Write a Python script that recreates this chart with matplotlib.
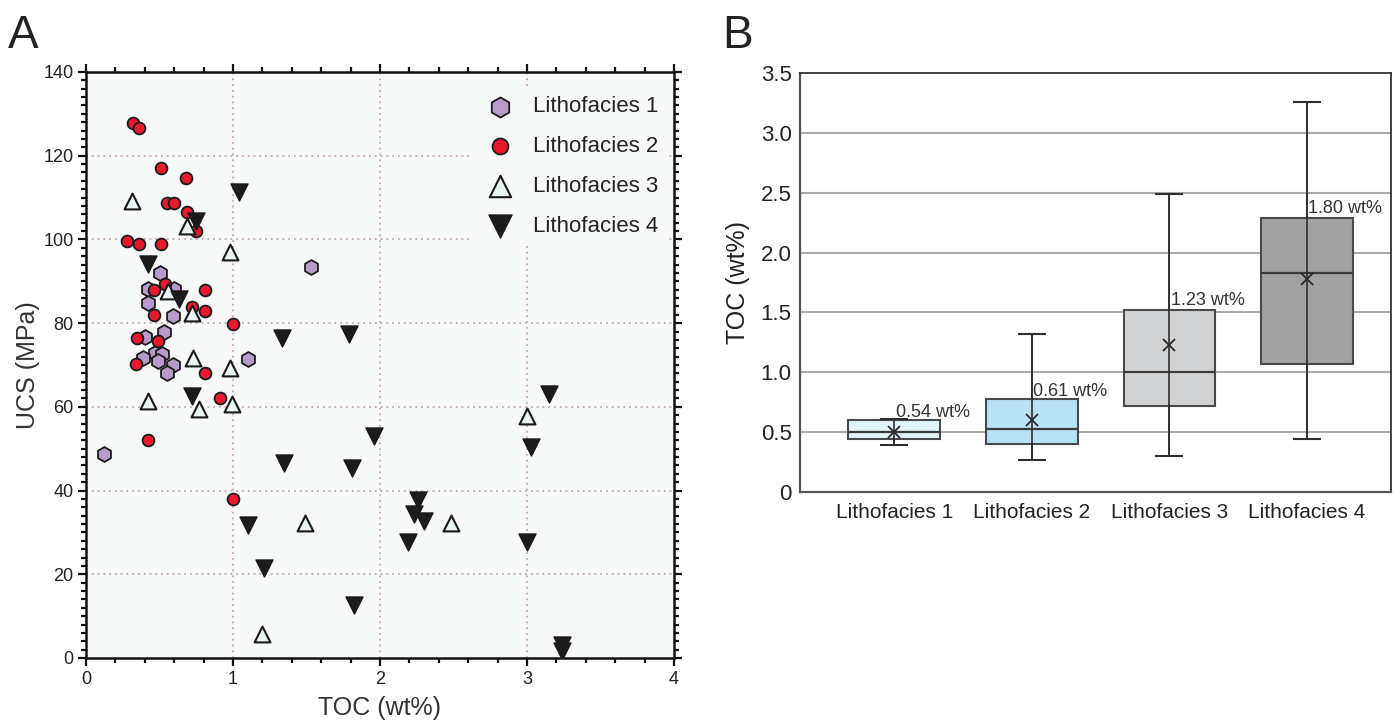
import matplotlib
matplotlib.use("Agg")
import matplotlib.pyplot as plt
from matplotlib.ticker import MultipleLocator

plt.rcParams['font.family'] = ['Liberation Sans', 'DejaVu Sans']

# ---------------- Panel A data (TOC wt%, UCS MPa) ----------------
l1_toc = [1.53, 0.50, 0.42, 0.60, 0.42, 0.59, 0.53, 0.40, 0.47, 0.52, 0.39, 0.49, 1.10, 0.59, 0.55, 0.12]
l1_ucs = [93.3, 91.9, 88.1, 88.1, 84.9, 81.6, 77.8, 76.8, 72.9, 72.6, 71.7, 70.9, 71.4, 69.9, 68.2, 48.7]

l2_toc = [0.32, 0.36, 0.51, 0.68, 0.55, 0.60, 0.69, 0.75, 0.28, 0.36, 0.51, 0.54, 0.46, 0.81,
          0.72, 0.81, 0.46, 1.00, 0.35, 0.49, 0.34, 0.81, 0.91, 0.42, 1.00]
l2_ucs = [127.7, 126.7, 117.0, 114.7, 108.8, 108.8, 106.6, 102.0, 99.6, 99.0, 99.0, 89.3, 88.0, 88.0,
          83.9, 83.0, 81.9, 79.7, 76.5, 75.7, 70.2, 68.2, 62.0, 52.0, 37.9]

l3_toc = [0.31, 0.69, 0.98, 0.56, 0.72, 0.73, 0.98, 0.42, 0.77, 0.99, 1.49, 1.20, 3.00, 2.48]
l3_ucs = [109.1, 103.3, 97.1, 87.7, 82.5, 71.6, 69.2, 61.3, 59.6, 60.7, 32.3, 5.7, 57.9, 32.3]

l4_toc = [1.04, 0.75, 0.42, 0.63, 1.33, 1.79, 0.72, 1.96, 1.35, 1.81, 1.10, 1.21, 1.82,
          3.15, 3.03, 2.26, 2.23, 2.30, 2.19, 3.00, 3.24, 3.24]
l4_ucs = [111.4, 104.4, 94.1, 85.7, 76.5, 77.3, 62.7, 53.1, 46.7, 45.3, 31.8, 21.4, 12.7,
          63.1, 50.5, 37.7, 34.3, 32.7, 27.6, 27.6, 3.0, 1.6]

series_labels = ["Lithofacies 1", "Lithofacies 2", "Lithofacies 3", "Lithofacies 4"]

# ---------------- Panel B data (box statistics, TOC wt%) ----------------
box_labels = ["Lithofacies 1", "Lithofacies 2", "Lithofacies 3", "Lithofacies 4"]
box_whislo = [0.39, 0.27, 0.30, 0.44]
box_q1 = [0.44, 0.40, 0.72, 1.07]
box_med = [0.50, 0.53, 1.00, 1.83]
box_q3 = [0.60, 0.78, 1.52, 2.29]
box_whishi = [0.61, 1.32, 2.49, 3.26]
box_mean = [0.50, 0.60, 1.23, 1.78]
mean_text = ["0.54 wt%", "0.61 wt%", "1.23 wt%", "1.80 wt%"]
box_colors = ["#e2f3fc", "#b8e2f6", "#d2d3d5", "#a2a2a3"]

fig = plt.figure(figsize=(14, 7.27), dpi=100)
W, H = 1400, 727

def axes_px(l, r, t, b):
    return fig.add_axes([l / W, 1 - b / H, (r - l) / W, (b - t) / H])

# ================= Panel A =================
axA = axes_px(86, 674, 72, 658)
axA.set_facecolor("#f6f9f8")
axA.set_xlim(0, 4)
axA.set_ylim(0, 140)
grid_kw = dict(color="#c6a7b1", linewidth=1.3, linestyle=(0, (1, 2.2)), zorder=0.5)
for gx in [1, 2, 3]:
    axA.axvline(gx, **grid_kw)
for gy in [20, 40, 60, 80, 100, 120]:
    axA.axhline(gy, **grid_kw)

edge = "#1a1a1a"
axA.scatter(l1_toc, l1_ucs, marker="h", s=115, facecolor="#b79ccb", edgecolor=edge,
            linewidth=1.3, zorder=3, label=series_labels[0])
axA.scatter(l2_toc, l2_ucs, marker="o", s=72, facecolor="#e8192c", edgecolor=edge,
            linewidth=1.3, zorder=3, label=series_labels[1])
axA.scatter(l3_toc, l3_ucs, marker="^", s=130, facecolor="#e9f4f4", edgecolor=edge,
            linewidth=1.5, zorder=3, label=series_labels[2])
axA.scatter(l4_toc, l4_ucs, marker="v", s=150, facecolor="#1c1c1c", edgecolor=edge,
            linewidth=1.0, zorder=3, label=series_labels[3])

axA.xaxis.set_major_locator(MultipleLocator(1))
axA.xaxis.set_minor_locator(MultipleLocator(0.2))
axA.yaxis.set_major_locator(MultipleLocator(20))
axA.yaxis.set_minor_locator(MultipleLocator(2))
axA.tick_params(which="both", direction="out", top=True, right=True, width=1.6,
                color="#111111", labelsize=13, labelcolor="#222222")
axA.tick_params(which="major", length=6, pad=3)
axA.tick_params(which="minor", length=3.5)
for sp in axA.spines.values():
    sp.set_linewidth(1.8)
    sp.set_color("#111111")
axA.set_xlabel("TOC (wt%)", fontsize=18, color="#333333", labelpad=6)
axA.set_ylabel("UCS (MPa)", fontsize=18, color="#333333", labelpad=2)

leg = axA.legend(loc="upper right", bbox_to_anchor=(1.0, 0.985), fontsize=16,
                 frameon=True, facecolor="#f6f9f8", edgecolor="none", framealpha=1,
                 labelspacing=0.85, handletextpad=0.5, borderaxespad=0.3,
                 scatterpoints=1, markerscale=1.35)
for txt in leg.get_texts():
    txt.set_color("#222222")

fig.text(8 / W, 1 - 48 / H, "A", fontsize=33, color="#222222", ha="left", va="baseline")

# ================= Panel B =================
axB = axes_px(800, 1391, 73, 492)
positions = [1, 2, 3, 4]
stats = []
for i in range(len(box_labels)):
    stats.append(dict(label=box_labels[i], whislo=box_whislo[i], q1=box_q1[i],
                      med=box_med[i], q3=box_q3[i], whishi=box_whishi[i],
                      mean=box_mean[i], fliers=[]))
bp = axB.bxp(stats, positions=positions, widths=0.665, patch_artist=True,
             showmeans=True, showfliers=False, manage_ticks=False,
             boxprops=dict(edgecolor="#4a4a4a", linewidth=1.5),
             medianprops=dict(color="#3a3a3a", linewidth=1.6),
             whiskerprops=dict(color="#2e2e2e", linewidth=1.2),
             capprops=dict(color="#2e2e2e", linewidth=1.5),
             meanprops=dict(marker="x", markersize=9, markeredgecolor="#2a2a2a",
                            markeredgewidth=1.3),
             capwidths=0.19, zorder=3)
for patch, c in zip(bp["boxes"], box_colors):
    patch.set_facecolor(c)
# whiskers drawn continuously through the box
for i, p in enumerate(positions):
    axB.plot([p, p], [box_whislo[i], box_whishi[i]], color="#2e2e2e", linewidth=1.2, zorder=3.5)

for i, p in enumerate(positions):
    axB.text(p + 0.01, box_q3[i] - 0.01 if i < 2 else box_q3[i] + 0.01, mean_text[i],
             fontsize=13, color="#333333", ha="left", va="bottom", zorder=5)

axB.set_xlim(0.316, 4.61)
axB.set_ylim(0, 3.5)
axB.set_yticks([0, 0.5, 1.0, 1.5, 2.0, 2.5, 3.0, 3.5])
axB.set_yticklabels(["0", "0.5", "1.0", "1.5", "2.0", "2.5", "3.0", "3.5"])
axB.set_xticks(positions)
axB.set_xticklabels(box_labels)
for gy in [0.5, 1.0, 1.5, 2.0, 2.5, 3.0]:
    axB.axhline(gy, color="#ababab", linewidth=1.5, zorder=1)
axB.tick_params(axis="y", length=0, labelsize=16, pad=6, labelcolor="#222222")
axB.tick_params(axis="x", length=0, labelsize=15, pad=8, labelcolor="#222222")
axB.spines["left"].set_color("#555555")
axB.spines["bottom"].set_color("#555555")
axB.spines["left"].set_linewidth(1.6)
axB.spines["bottom"].set_linewidth(1.6)
axB.spines["top"].set_color("#333333")
axB.spines["right"].set_color("#333333")
axB.spines["top"].set_linewidth(1.3)
axB.spines["right"].set_linewidth(1.3)
axB.set_ylabel("TOC (wt%)", fontsize=18, color="#222222", labelpad=8)

fig.text(722 / W, 1 - 48 / H, "B", fontsize=33, color="#222222", ha="left", va="baseline")

fig.savefig("out.png", dpi=100, facecolor="white")
